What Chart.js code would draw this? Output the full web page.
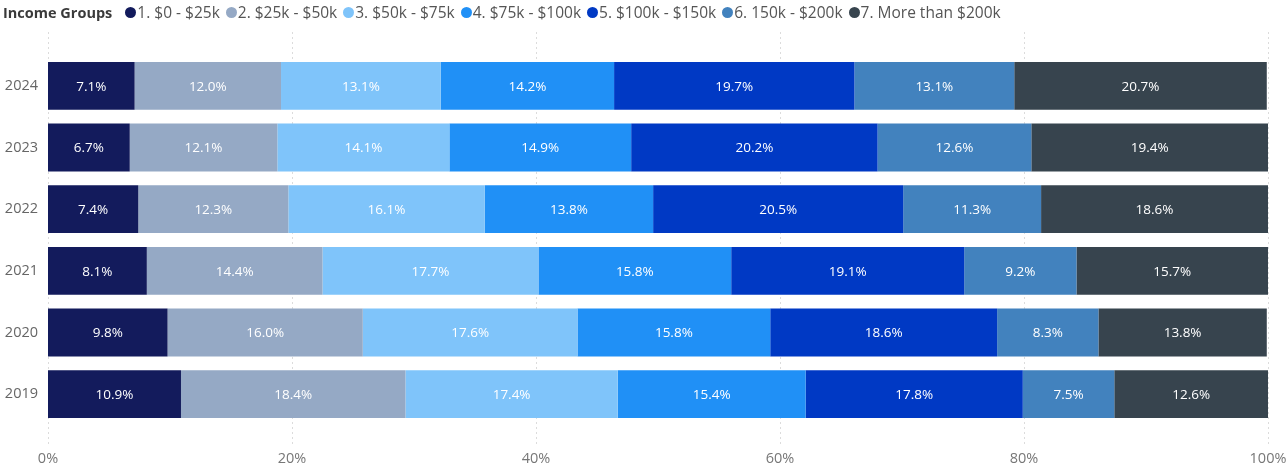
<!DOCTYPE html>
<html>
<head>
<meta charset="utf-8">
<script src="https://cdn.jsdelivr.net/npm/chart.js@4.4.1/dist/chart.umd.min.js"></script>
<style>
  html, body { margin: 0; padding: 0; background: #fff; }
  #wrap { position: relative; width: 1288px; height: 468px; }
  #legend {
    position: absolute; left: 3px; top: 1px; height: 22px;
    display: flex; align-items: center; white-space: nowrap;
    font-family: "Open Sans", sans-serif; font-size: 15.5px; color: #555;
  }
  #legend .title { font-weight: 700; color: #3a3a3a; font-size: 14.5px; margin-right: 13px; }
  #legend .item { display: flex; align-items: center; margin-right: 6px; }
  #legend .dot { width: 11px; height: 11px; border-radius: 50%; margin-right: 1px; }
  canvas { position: absolute; left: 0; top: 0; }
</style>
</head>
<body>
<div id="wrap">
  <canvas id="c" width="1288" height="468"></canvas>
  <div id="legend"></div>
</div>
<script>
const legendTitle = 'Income Groups';
const years = ['2024', '2023', '2022', '2021', '2020', '2019'];
const groupNames = [
  '1. $0 - $25k',
  '2. $25k - $50k',
  '3. $50k - $75k',
  '4. $75k - $100k',
  '5. $100k - $150k',
  '6. 150k - $200k',
  '7. More than $200k'
];
const groupColors = ['#131B5C', '#95A9C5', '#7FC4FA', '#2090F6', '#0039C4', '#4282BE', '#37444E'];

const g1 = [7.1, 6.7, 7.4, 8.1, 9.8, 10.9];
const g2 = [12.0, 12.1, 12.3, 14.4, 16.0, 18.4];
const g3 = [13.1, 14.1, 16.1, 17.7, 17.6, 17.4];
const g4 = [14.2, 14.9, 13.8, 15.8, 15.8, 15.4];
const g5 = [19.7, 20.2, 20.5, 19.1, 18.6, 17.8];
const g6 = [13.1, 12.6, 11.3, 9.2, 8.3, 7.5];
const g7 = [20.7, 19.4, 18.6, 15.7, 13.8, 12.6];
const groupValues = [g1, g2, g3, g4, g5, g6, g7];

const xTicks = [0, 20, 40, 60, 80, 100];

// legend row
const legendEl = document.getElementById('legend');
const t = document.createElement('span');
t.className = 'title';
t.textContent = legendTitle;
legendEl.appendChild(t);
groupNames.forEach((name, i) => {
  const it = document.createElement('span');
  it.className = 'item';
  const d = document.createElement('span');
  d.className = 'dot';
  d.style.background = groupColors[i];
  const s = document.createElement('span');
  s.textContent = name;
  it.appendChild(d);
  it.appendChild(s);
  legendEl.appendChild(it);
});

// dotted vertical gridlines, extending slightly beyond the plot area
const dottedGrid = {
  id: 'dottedGrid',
  beforeDatasetsDraw(chart) {
    const { ctx, scales: { x }, chartArea } = chart;
    ctx.save();
    ctx.strokeStyle = '#dcdcdc';
    ctx.lineWidth = 1;
    ctx.setLineDash([2, 3]);
    x.ticks.forEach(tk => {
      const px = Math.round(x.getPixelForValue(tk.value)) + 0.5;
      ctx.beginPath();
      ctx.moveTo(px, chartArea.top - 23);
      ctx.lineTo(px, chartArea.bottom + 20);
      ctx.stroke();
    });
    ctx.restore();
  }
};

// value labels centred in each segment
const segmentLabels = {
  id: 'segmentLabels',
  afterDatasetsDraw(chart) {
    const { ctx } = chart;
    ctx.save();
    ctx.fillStyle = '#ffffff';
    ctx.font = '13.5px "Open Sans", sans-serif';
    ctx.textAlign = 'center';
    ctx.textBaseline = 'middle';
    chart.data.datasets.forEach((ds, di) => {
      const meta = chart.getDatasetMeta(di);
      meta.data.forEach((bar, i) => {
        const v = ds.data[i];
        const cx = (bar.x + bar.base) / 2;
        ctx.fillText(v.toFixed(1) + '%', cx, bar.y + 1);
      });
    });
    ctx.restore();
  }
};

new Chart(document.getElementById('c'), {
  type: 'bar',
  data: {
    labels: years,
    datasets: groupNames.map((name, i) => ({
      label: name,
      data: groupValues[i],
      backgroundColor: groupColors[i],
      borderWidth: 0,
      barPercentage: 0.775,
      categoryPercentage: 1
    }))
  },
  options: {
    indexAxis: 'y',
    responsive: false,
    animation: false,
    layout: { padding: { top: 55, right: 20, left: 0, bottom: 0 } },
    plugins: {
      legend: { display: false },
      tooltip: { enabled: false }
    },
    scales: {
      x: {
        stacked: true,
        min: 0,
        max: 100,
        afterBuildTicks(scale) { scale.ticks = xTicks.map(v => ({ value: v })); },
        afterFit(scale) {
          scale.height = 43;
          scale.paddingLeft = 0;
          scale.paddingRight = 0;
        },
        grid: { display: false, drawTicks: false },
        border: { display: false },
        ticks: {
          padding: 25,
          color: '#777',
          font: { family: '"Open Sans", sans-serif', size: 14.5 },
          callback: v => v + '%'
        }
      },
      y: {
        stacked: true,
        afterFit(scale) { scale.width = 48; },
        grid: { display: false, drawTicks: false },
        border: { display: false },
        ticks: {
          padding: 10,
          color: '#666',
          font: { family: '"Open Sans", sans-serif', size: 14.5 }
        }
      }
    }
  },
  plugins: [dottedGrid, segmentLabels]
});
</script>
</body>
</html>
